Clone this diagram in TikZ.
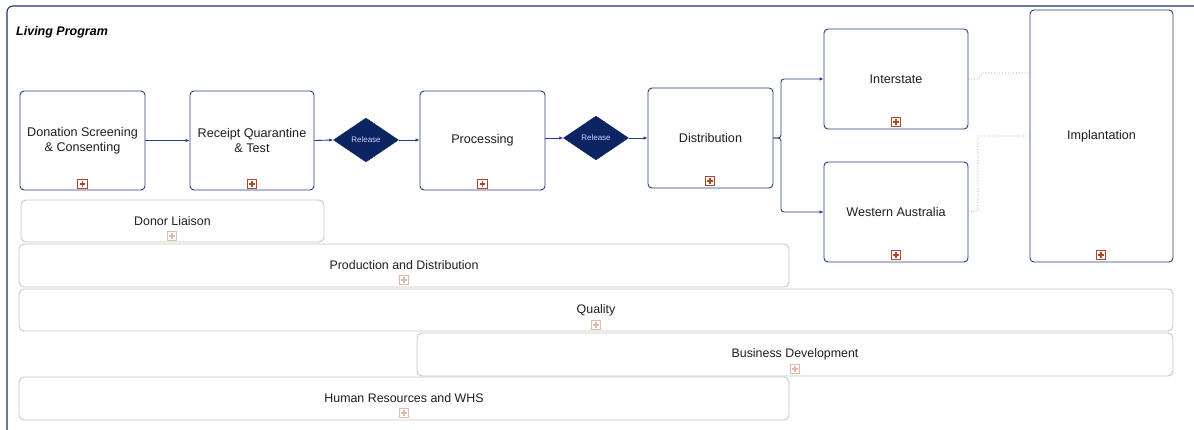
\documentclass[tikz,border=0pt]{standalone}
\usepackage{fontspec}
\setmainfont{Liberation Sans}
\usetikzlibrary{shapes.geometric,arrows.meta,calc}
\definecolor{navy}{HTML}{1B2F6B}
\definecolor{boxblue}{HTML}{243F80}
\definecolor{dfill}{HTML}{0C2461}
\definecolor{greyline}{HTML}{C6C6C2}
\definecolor{txt}{HTML}{1E1E1E}
\definecolor{plusdark}{HTML}{A9482A}
\definecolor{pluslight}{HTML}{E2B8A8}
\definecolor{dotcol}{HTML}{8090B8}
\tikzset{
  procbox/.style={draw=boxblue, line width=0.9pt, rounded corners=4pt, fill=white,
    inner sep=0pt, align=center, text=txt, font=\fontsize{12.6}{15}\selectfont},
  greybox/.style={draw=greyline, line width=0.9pt, rounded corners=5pt, fill=white,
    inner sep=0pt, align=center, text=txt, font=\fontsize{12.4}{14}\selectfont},
  gate/.style={diamond, fill=dfill, draw=dfill, inner sep=0pt, minimum width=65pt,
    minimum height=44pt, text=white!80!blue, font=\fontsize{8}{9}\selectfont},
  plusicon/.style={draw=#1, line width=0.8pt, fill=white, minimum size=9.5pt, inner sep=0pt,
    path picture={\draw[#1, line width=1.3pt]
      ([xshift=-2.6pt]path picture bounding box.center) -- ([xshift=2.6pt]path picture bounding box.center)
      ([yshift=-2.6pt]path picture bounding box.center) -- ([yshift=2.6pt]path picture bounding box.center);}},
  flow/.style={draw=boxblue, line width=0.9pt, -{Latex[length=4pt,width=3.5pt]}},
  dotlink/.style={draw=dotcol, line width=0.8pt, dotted},
}
\begin{document}
\begin{tikzpicture}[x=1pt,y=-1pt]
\useasboundingbox (0,0) rectangle (1194,430);
% frame
\draw[navy, line width=1.1pt, rounded corners=6pt] (7,430) -- (7,6) -- (1194,6);
\node[anchor=west, font=\fontsize{12.5}{14}\selectfont\bfseries\itshape, text=black, inner sep=0pt] (title) at (16,32) {Living Program};

% process boxes
\node[procbox, minimum width=125pt, minimum height=99pt] (don) at (82.5,140.5) {Donation Screening\\\& Consenting};
\node[procbox, minimum width=124pt, minimum height=99pt] (rec) at (252,140.5) {Receipt Quarantine\\\& Test};
\node[gate] (rel1) at (366,140) {Release};
\node[procbox, minimum width=125pt, minimum height=99pt] (proc) at (482.5,140.5) {Processing};
\node[gate] (rel2) at (596,138) {Release};
\node[procbox, minimum width=125pt, minimum height=100pt] (dist) at (710.5,138) {Distribution};
\node[procbox, minimum width=144pt, minimum height=100pt] (inter) at (896,79) {Interstate};
\node[procbox, minimum width=144pt, minimum height=100pt] (wa) at (896,212) {Western Australia};
\node[procbox, minimum width=143pt, minimum height=252pt] (impl) at (1101.5,136) {Implantation};

% plus icons
\node[plusicon=plusdark] (p1) at (82.5,184) {};
\node[plusicon=plusdark] (p2) at (252,184) {};
\node[plusicon=plusdark] (p3) at (482.5,184) {};
\node[plusicon=plusdark] (p4) at (710,181) {};
\node[plusicon=plusdark] (p5) at (896,122) {};
\node[plusicon=plusdark] (p6) at (896,255) {};
\node[plusicon=plusdark] (p7) at (1101,255) {};

% connectors
\draw[flow] (don.east) -- (rec.west);
\draw[flow] (rec.east) -- (rel1.west);
\draw[flow] (rel1.east) -- (proc.west |- rel1.east);
\draw[flow] (proc.east |- rel2.west) -- (rel2.west);
\draw[flow] (rel2.east) -- (dist.west |- rel2.east);
\coordinate (fork) at (781,138);
\draw[flow, rounded corners=3pt] (dist.east) -- (fork) |- (inter.west);
\draw[flow, rounded corners=3pt] (dist.east) -- (fork) |- (wa.west);
\coordinate (itop) at (1030,73);
\coordinate (ibend) at (983,73);
\coordinate (wbend) at (978,210);
\draw[dotlink] (inter.east) -- ++(9,0) -- (ibend) -- (itop);
\draw[dotlink] (wa.east) -- (wbend) -- (wbend |- impl.west) -- (impl.west);

% grey lanes
\node[greybox, minimum width=303pt, minimum height=42pt] (donor) at (172.5,221) {Donor Liaison};
\node[greybox, minimum width=770pt, minimum height=43pt] (prod) at (404,265.5) {Production and Distribution};
\node[greybox, minimum width=1154pt, minimum height=42pt] (qual) at (596,310) {Quality};
\node[greybox, minimum width=756pt, minimum height=43pt] (bus) at (795,354.5) {Business Development};
\node[greybox, minimum width=770pt, minimum height=43pt] (hr) at (404,398.5) {Human Resources and WHS};
\node[plusicon=pluslight] (q1) at (172,236) {};
\node[plusicon=pluslight] (q2) at (404,280) {};
\node[plusicon=pluslight] (q3) at (596,325) {};
\node[plusicon=pluslight] (q4) at (795,369) {};
\node[plusicon=pluslight] (q5) at (404,413) {};
\end{tikzpicture}
\end{document}
